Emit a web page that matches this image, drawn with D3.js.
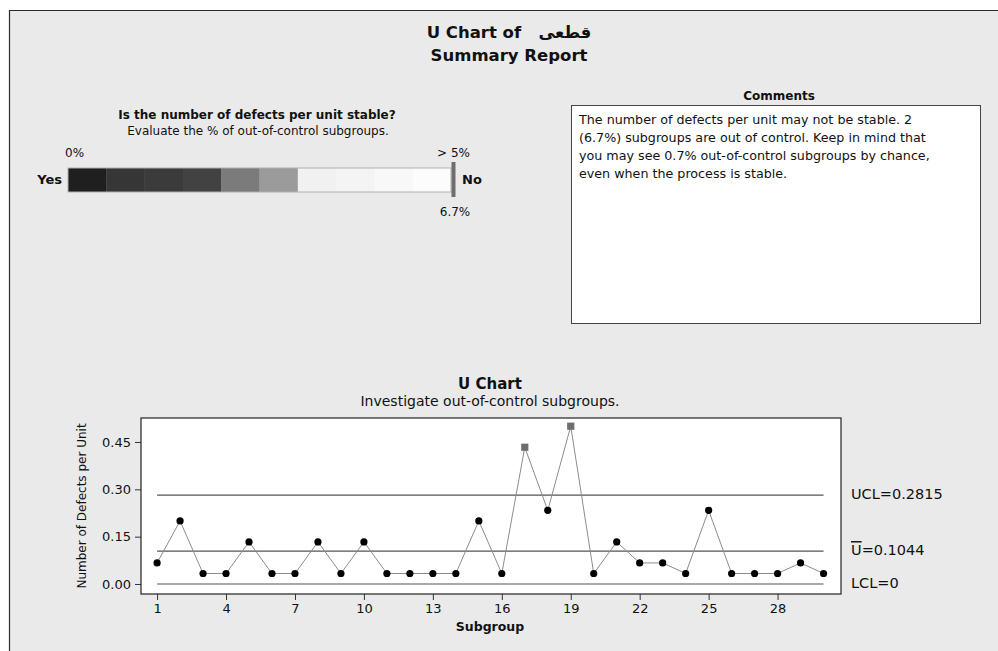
<!DOCTYPE html>
<html><head><meta charset="utf-8">
<script src="https://cdn.jsdelivr.net/npm/d3@7"></script>
<style>
body{margin:0;background:#fff}
text{font-family:"DejaVu Sans",Verdana,sans-serif;fill:#111}
</style>
</head><body><svg id="c" width="998" height="651"></svg>
<script>
// ---------- data ----------
const subgroups = [1,2,3,4,5,6,7,8,9,10,11,12,13,14,15,16,17,18,19,20,21,22,23,24,25,26,27,28,29,30];
const defectsPerUnit = [0.0667,0.2000,0.0333,0.0333,0.1333,0.0333,0.0333,0.1333,0.0333,0.1333,
                        0.0333,0.0333,0.0333,0.0333,0.2000,0.0333,0.4333,0.2333,0.5000,0.0333,
                        0.1333,0.0667,0.0667,0.0333,0.2333,0.0333,0.0333,0.0333,0.0667,0.0333];
const outOfControl = [17,19];
const limitNames = ["UCL","U","LCL"];
const limitValues = [0.2815,0.1044,0];
const yTicks = [0,0.15,0.30,0.45];
const xTicks = [1,4,7,10,13,16,19,22,25,28];
const stabilityBands = [0,0.5,1,1.5,2,2.5,3,3.5,4,4.5];   // % out-of-control, each band 0.5%
const pctOutOfControl = 6.7;
const commentLines = [
  "The number of defects per unit may not be stable. 2",
  "(6.7%) subgroups are out of control. Keep in mind that",
  "you may see 0.7% out-of-control subgroups by chance,",
  "even when the process is stable."
];
// ---------- styles ----------
const bandShades = ["#1f1f1f","#363636","#3b3b3b","#424242","#7b7b7b","#9b9b9b","#f1f1f1","#f4f4f4","#f8f8f8","#fcfcfc"];

const svg = d3.select("#c");
// frame / background
svg.append("rect").attr("x",9).attr("y",10).attr("width",989).attr("height",641).attr("fill","#eaeaea");
svg.append("path").attr("d","M9.5,651V10.5H998").attr("fill","none").attr("stroke","#2a2a2a").attr("stroke-width",1.2);

// titles
svg.append("text").attr("x",509).attr("y",33).attr("text-anchor","middle").attr("dominant-baseline","middle")
  .attr("font-size",16.5).attr("font-weight","bold").text("U Chart of \u00A0 قطعی");
svg.append("text").attr("x",509).attr("y",56).attr("text-anchor","middle").attr("dominant-baseline","middle")
  .attr("font-size",16.5).attr("font-weight","bold").text("Summary Report");

// ---------- stability bar ----------
svg.append("text").attr("x",257).attr("y",115).attr("text-anchor","middle").attr("dominant-baseline","middle")
  .attr("font-size",12).attr("font-weight","bold").text("Is the number of defects per unit stable?");
svg.append("text").attr("x",258).attr("y",131).attr("text-anchor","middle").attr("dominant-baseline","middle")
  .attr("font-size",12).text("Evaluate the % of out-of-control subgroups.");

const xb = d3.scaleLinear().domain([0,5]).range([68,451]);
const bar = svg.append("g");
bar.selectAll("rect.band").data(stabilityBands).join("rect").attr("class","band")
  .attr("x",d=>xb(d)).attr("y",168).attr("width",d=>xb(d+0.5)-xb(d)+0.3).attr("height",24)
  .attr("fill",(d,i)=>bandShades[i]);
bar.append("rect").attr("x",xb(0)).attr("y",168).attr("width",xb(5)-xb(0)).attr("height",24)
  .attr("fill","none").attr("stroke","#b0b0b0").attr("stroke-width",1);
svg.append("rect").attr("x",xb(Math.min(pctOutOfControl,5))+0.5).attr("y",162).attr("width",4).attr("height",35).attr("fill","#6e6e6e");
svg.append("text").attr("x",65).attr("y",153).attr("dominant-baseline","middle").attr("font-size",12).attr("fill","#333").text("0%");
svg.append("text").attr("x",470).attr("y",153).attr("text-anchor","end").attr("dominant-baseline","middle").attr("font-size",12).attr("fill","#333").text("> 5%");
svg.append("text").attr("x",455).attr("y",212).attr("text-anchor","middle").attr("dominant-baseline","middle").attr("font-size",12).attr("fill","#333").text(pctOutOfControl+"%");
svg.append("text").attr("x",62).attr("y",180).attr("text-anchor","end").attr("dominant-baseline","middle").attr("font-size",13).attr("font-weight","bold").text("Yes");
svg.append("text").attr("x",462).attr("y",180).attr("dominant-baseline","middle").attr("font-size",13).attr("font-weight","bold").text("No");

// ---------- comments ----------
svg.append("text").attr("x",779).attr("y",96).attr("text-anchor","middle").attr("dominant-baseline","middle")
  .attr("font-size",12).attr("font-weight","bold").text("Comments");
svg.append("rect").attr("x",571.5).attr("y",105.5).attr("width",409).attr("height",218).attr("fill","#fff").attr("stroke","#444");
svg.append("g").selectAll("text").data(commentLines).join("text")
  .attr("x",579).attr("y",(d,i)=>120+i*18).attr("dominant-baseline","middle").attr("font-size",12.7).text(d=>d);

// ---------- U chart ----------
const L=141,R=841,T=418,B=594;
const x = d3.scaleLinear().domain([0.3,30.76]).range([L,R]);
const y = d3.scaleLinear().domain([-0.0317,0.526]).range([B,T]);

svg.append("text").attr("x",490).attr("y",384).attr("text-anchor","middle").attr("dominant-baseline","middle")
  .attr("font-size",15).attr("font-weight","bold").text("U Chart");
svg.append("text").attr("x",490).attr("y",402).attr("text-anchor","middle").attr("dominant-baseline","middle")
  .attr("font-size",14).text("Investigate out-of-control subgroups.");

svg.append("rect").attr("x",L).attr("y",T).attr("width",R-L).attr("height",B-T).attr("fill","#fff");

const gy = svg.append("g").attr("transform",`translate(${L},0)`)
  .call(d3.axisLeft(y).tickValues(yTicks).tickFormat(d3.format(".2f")).tickSize(6).tickSizeOuter(0).tickPadding(4));
const gx = svg.append("g").attr("transform",`translate(0,${B})`)
  .call(d3.axisBottom(x).tickValues(xTicks).tickFormat(d3.format("d")).tickSize(6).tickSizeOuter(0).tickPadding(4));
[gy,gx].forEach(g=>{
  g.select(".domain").remove();
  g.selectAll(".tick line").attr("stroke","#333");
  g.selectAll(".tick text").attr("font-size",13).attr("font-family","DejaVu Sans, Verdana, sans-serif").attr("fill","#222");
});

// control lines
svg.append("g").selectAll("line").data(limitValues).join("line")
  .attr("x1",x(subgroups[0])).attr("x2",x(subgroups[subgroups.length-1]))
  .attr("y1",d=>y(d)).attr("y2",d=>y(d)).attr("stroke","#555").attr("stroke-width",1.2);

// data line
const pts = subgroups.map((s,i)=>({s,v:defectsPerUnit[i]}));
svg.append("path").datum(pts).attr("fill","none").attr("stroke","#8c8c8c").attr("stroke-width",1)
  .attr("d",d3.line().x(d=>x(d.s)).y(d=>y(d.v)));
svg.append("g").selectAll("circle").data(pts.filter(d=>!outOfControl.includes(d.s))).join("circle")
  .attr("cx",d=>x(d.s)).attr("cy",d=>y(d.v)).attr("r",3.6).attr("fill","#000");
svg.append("g").selectAll("rect").data(pts.filter(d=>outOfControl.includes(d.s))).join("rect")
  .attr("x",d=>x(d.s)-3.6).attr("y",d=>y(d.v)-3.6).attr("width",7.2).attr("height",7.2).attr("fill","#6f6f6f");

// frame
svg.append("rect").attr("x",L).attr("y",T).attr("width",R-L).attr("height",B-T).attr("fill","none").attr("stroke","#222").attr("stroke-width",1.2);

// limit labels
const lab = svg.append("g").selectAll("text").data(limitValues).join("text")
  .attr("x",851).attr("y",d=>y(d)).attr("dominant-baseline","middle").attr("font-size",14.5).attr("fill","#222");
lab.each(function(d,i){
  const t=d3.select(this);
  if(limitNames[i]==="U"){
    t.append("tspan").attr("text-decoration","overline").style("text-decoration","overline").text("U");
    t.append("tspan").text("="+d3.format(".4f")(d));
  } else {
    t.text(limitNames[i]+"="+(d===0?"0":d3.format(".4f")(d)));
  }
});

// axis titles
svg.append("text").attr("x",490).attr("y",627).attr("text-anchor","middle").attr("dominant-baseline","middle")
  .attr("font-size",12.5).attr("font-weight","bold").text("Subgroup");
svg.append("text").attr("transform","translate(82,506) rotate(-90)").attr("text-anchor","middle").attr("dominant-baseline","middle")
  .attr("font-size",12).text("Number of Defects per Unit");
</script>
</body></html>
